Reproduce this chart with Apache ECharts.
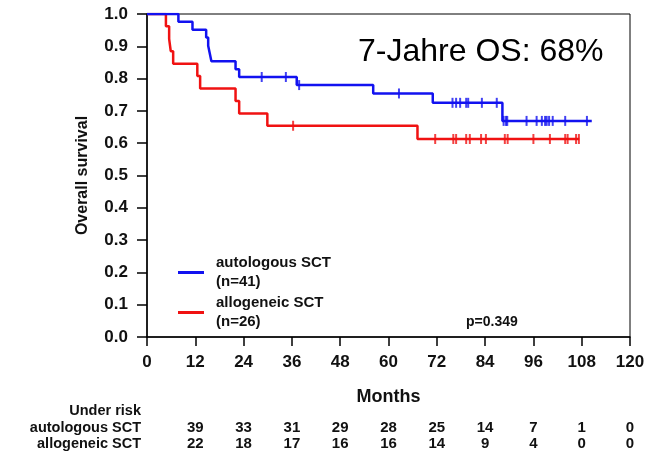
<!DOCTYPE html>
<html>
<head>
<meta charset="utf-8">
<script src="https://cdn.jsdelivr.net/npm/echarts@6/dist/echarts.min.js"></script>
<style>
  html, body { margin: 0; padding: 0; background: #fff; }
  #chart { width: 667px; height: 454px; }
</style>
</head>
<body>
<div id="chart"></div>
<script>
// Kaplan-Meier: Zeitpunkte der Ereignisse und Überlebensrate danach
const autoTimes = [0, 7.8, 11.3, 14.7, 15.2, 15.6, 16.0, 22.0, 22.9, 37.2, 56.2, 71.0, 88.3, 110.5]
const autoSurv  = [1, 0.976, 0.951, 0.927, 0.902, 0.878, 0.854, 0.829, 0.805, 0.780, 0.754, 0.725, 0.669, 0.669]
const autoCens  = [28.5, 34.5, 37.8, 62.6, 75.9, 76.8, 77.8, 79.3, 79.8, 83.2, 86.9, 88.6, 89.2, 89.5,
                   94.3, 96.8, 98.1, 98.9, 99.3, 99.9, 100.8, 103.9, 109.3]

const alloTimes = [0, 4.7, 5.5, 5.9, 6.5, 12.5, 13.2, 22.0, 22.9, 29.9, 67.2, 107.4]
const alloSurv  = [1, 0.962, 0.923, 0.885, 0.846, 0.808, 0.769, 0.731, 0.692, 0.654, 0.613, 0.613]
const alloCens  = [36.3, 71.6, 76.1, 76.8, 79.3, 80.2, 83.0, 84.2, 88.9, 89.6, 96.0, 100.1, 103.9, 104.5, 106.6, 107.3]

// Under risk (Monat 12, 24, ... 120)
const riskMonths = [12, 24, 36, 48, 60, 72, 84, 96, 108, 120]
const riskAuto = [39, 33, 31, 29, 28, 25, 14, 7, 1, 0]
const riskAllo = [22, 18, 17, 16, 16, 14, 9, 4, 0, 0]

const BLUE = '#1212f0'
const RED = '#f01212'
const FONT = 'Liberation Sans, Arial, sans-serif'

function levelAt(times, surv, t) {
  let s = surv[0]
  for (let i = 0; i < times.length; i++) if (times[i] <= t) s = surv[i]
  return s
}

const zip = (a, b) => a.map((t, i) => [t, b[i]])
const cens = (c, times, surv) => c.map(t => [t, levelAt(times, surv, t)])

function riskAxis(gridIndex, values) {
  return {
    type: 'value', gridIndex, min: 0, max: 120, interval: 12, position: 'top',
    axisLine: { show: false }, axisTick: { show: false }, splitLine: { show: false },
    axisLabel: {
      margin: 0, verticalAlign: 'middle', fontFamily: FONT, fontWeight: 'bold', fontSize: 15, color: '#111',
      formatter: v => { const i = riskMonths.indexOf(v); return i < 0 ? '' : String(values[i]) }
    }
  }
}

const chart = echarts.init(document.getElementById('chart'))
chart.setOption({
  animation: false,
  grid: [
    { left: 147, right: 37, top: 14, bottom: 117, show: true, borderColor: '#000', borderWidth: 1, outerBoundsMode: 'none' },
    { left: 147, right: 37, top: 428, height: 1, outerBoundsMode: 'none' },
    { left: 147, right: 37, top: 444, height: 1, outerBoundsMode: 'none' }
  ],
  legend: {
    data: ['autologous SCT\n(n=41)', 'allogeneic SCT\n(n=26)'],
    orient: 'vertical', left: 173, top: 249, itemWidth: 26, itemHeight: 3, itemGap: 3,
    icon: 'rect',
    textStyle: { fontFamily: FONT, fontWeight: 'bold', fontSize: 15, color: '#111', lineHeight: 18.5, padding: [0, 0, 0, 7] }
  },
  xAxis: [
    {
      type: 'value', gridIndex: 0, min: 0, max: 120, interval: 12,
      name: 'Months', nameLocation: 'middle', nameGap: 51,
      nameTextStyle: { fontFamily: FONT, fontWeight: 'bold', fontSize: 18, color: '#111' },
      axisLine: { lineStyle: { color: '#000', width: 1.5 } },
      axisTick: { length: 9, lineStyle: { color: '#000', width: 1.5 } },
      splitLine: { show: false },
      axisLabel: { margin: 17, fontFamily: FONT, fontWeight: 'bold', fontSize: 17, color: '#111' }
    },
    riskAxis(1, riskAuto),
    riskAxis(2, riskAllo)
  ],
  yAxis: [
    {
      type: 'value', gridIndex: 0, min: 0, max: 1, interval: 0.1,
      name: 'Overall survival', nameLocation: 'middle', nameGap: 56, nameRotate: 90,
      nameTextStyle: { fontFamily: FONT, fontWeight: 'bold', fontSize: 16, color: '#111' },
      axisLine: { lineStyle: { color: '#000', width: 1.5 } },
      axisTick: { length: 10, lineStyle: { color: '#000', width: 1.5 } },
      splitLine: { show: false },
      axisLabel: { margin: 19, fontFamily: FONT, fontWeight: 'bold', fontSize: 17, color: '#111', formatter: v => v.toFixed(1) }
    },
    { type: 'value', gridIndex: 1, show: false },
    { type: 'value', gridIndex: 2, show: false }
  ],
  series: [
    {
      name: 'autologous SCT\n(n=41)', type: 'line', step: 'end', showSymbol: false,
      data: zip(autoTimes, autoSurv), color: BLUE, lineStyle: { width: 2.5 }, z: 3
    },
    {
      name: 'allogeneic SCT\n(n=26)', type: 'line', step: 'end', showSymbol: false,
      data: zip(alloTimes, alloSurv), color: RED, lineStyle: { width: 2.5 }, z: 2
    },
    {
      type: 'scatter', data: cens(autoCens, autoTimes, autoSurv), symbol: 'rect', symbolSize: [2, 10],
      itemStyle: { color: BLUE }, z: 4
    },
    {
      type: 'scatter', data: cens(alloCens, alloTimes, alloSurv), symbol: 'rect', symbolSize: [2, 10],
      itemStyle: { color: RED }, z: 4
    }
  ],
  graphic: [
    { type: 'text', left: 358, top: 36, style: { text: '7-Jahre OS: 68%', font: '32px ' + FONT, fill: '#000' } },
    { type: 'text', left: 466, top: 315, style: { text: 'p=0.349', font: 'bold 14px ' + FONT, fill: '#111' } },
    { type: 'text', right: 526, top: 403, style: { text: 'Under risk', font: 'bold 14.5px ' + FONT, fill: '#111' } },
    { type: 'text', right: 526, top: 420, style: { text: 'autologous SCT', font: 'bold 14.5px ' + FONT, fill: '#111' } },
    { type: 'text', right: 526, top: 436, style: { text: 'allogeneic SCT', font: 'bold 14.5px ' + FONT, fill: '#111' } }
  ]
})
</script>
</body>
</html>
